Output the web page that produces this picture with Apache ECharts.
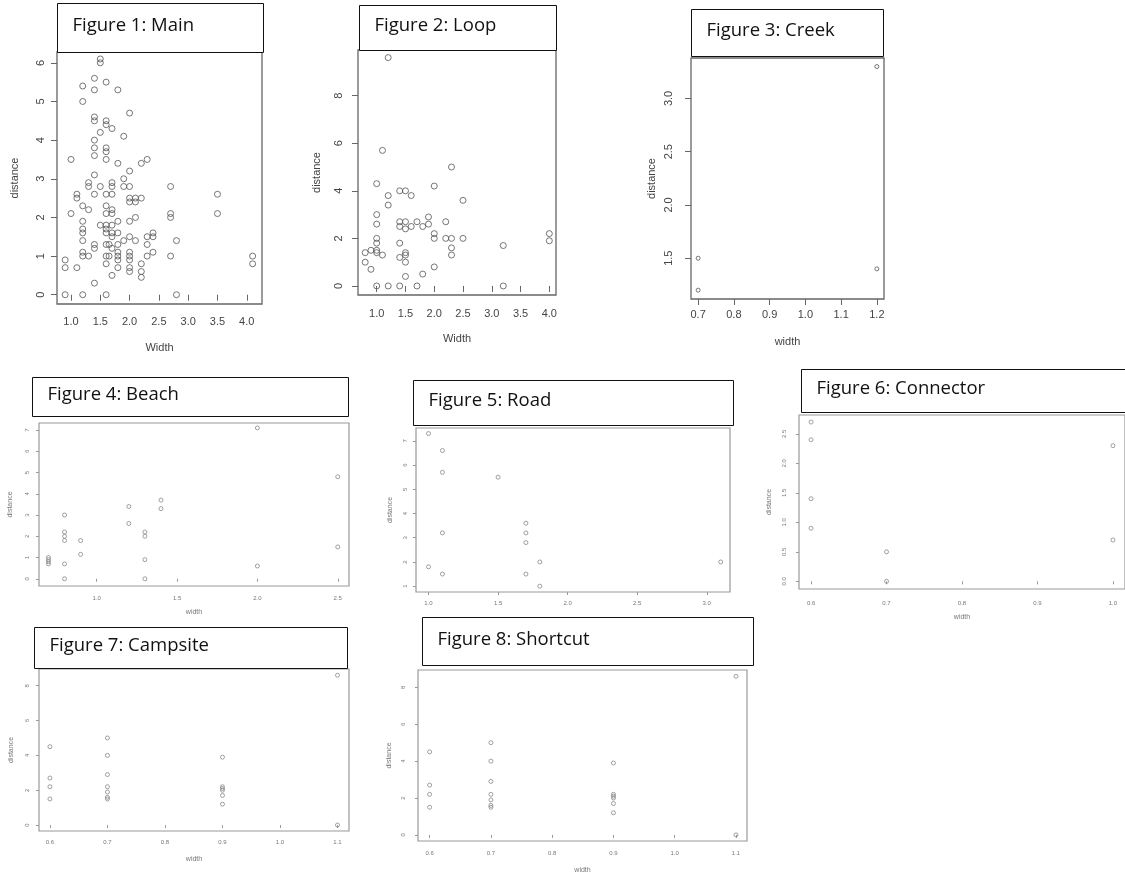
<!DOCTYPE html>
<html>
<head>
<meta charset="utf-8">
<script src="https://cdn.jsdelivr.net/npm/echarts@6/dist/echarts.min.js"></script>
<style>
  html, body { margin: 0; padding: 0; background: #fff; }
  #chart { width: 1125px; height: 877px; }
</style>
</head>
<body>
<div id="chart"></div>
<script>
// [width, distance] pairs
const mainPts = [
  [0.9, 0], [0.9, 0.9], [0.9, 0.7], [1.0, 2.1], [1.0, 3.5], [1.1, 0.7], [1.1, 2.6], [1.1, 2.5],
  [1.2, 0], [1.2, 5.4], [1.2, 5.0], [1.2, 2.3], [1.2, 1.9], [1.2, 1.7], [1.2, 1.6], [1.2, 1.4],
  [1.2, 1.1], [1.2, 1.0], [1.3, 2.2], [1.3, 1.0], [1.3, 2.9], [1.3, 2.8],
  [1.4, 5.6], [1.4, 5.3], [1.4, 4.6], [1.4, 4.5], [1.4, 4.0], [1.4, 3.8], [1.4, 3.6], [1.4, 3.1],
  [1.4, 2.6], [1.4, 1.3], [1.4, 1.2], [1.4, 0.3],
  [1.5, 6.1], [1.5, 6.0], [1.5, 4.2], [1.5, 2.8], [1.5, 1.8],
  [1.6, 0], [1.6, 5.5], [1.6, 4.5], [1.6, 4.4], [1.6, 3.8], [1.6, 3.7], [1.6, 3.5], [1.6, 2.6],
  [1.6, 2.3], [1.6, 2.1], [1.6, 1.8], [1.6, 1.7], [1.6, 1.6], [1.6, 1.3], [1.6, 1.0], [1.6, 0.8],
  [1.65, 1.3], [1.65, 1.0],
  [1.7, 4.3], [1.7, 2.9], [1.7, 2.8], [1.7, 2.6], [1.7, 2.2], [1.7, 2.1], [1.7, 1.8], [1.7, 1.6],
  [1.7, 1.5], [1.7, 1.2], [1.7, 0.5],
  [1.8, 5.3], [1.8, 3.4], [1.8, 1.9], [1.8, 1.6], [1.8, 1.3], [1.8, 1.1], [1.8, 1.0], [1.8, 0.9], [1.8, 0.7],
  [1.9, 4.1], [1.9, 3.0], [1.9, 2.8], [1.9, 1.4],
  [2.0, 4.7], [2.0, 3.2], [2.0, 2.8], [2.0, 2.5], [2.0, 2.4], [2.0, 1.9], [2.0, 1.5], [2.0, 1.1],
  [2.0, 1.0], [2.0, 0.9], [2.0, 0.7], [2.0, 0.6],
  [2.1, 2.5], [2.1, 2.4], [2.1, 2.0], [2.1, 1.4],
  [2.2, 3.4], [2.2, 2.5], [2.2, 0.8], [2.2, 0.6], [2.2, 0.45],
  [2.3, 3.5], [2.3, 1.5], [2.3, 1.3], [2.3, 1.0],
  [2.4, 1.6], [2.4, 1.5], [2.4, 1.1],
  [2.7, 2.8], [2.7, 2.1], [2.7, 2.0], [2.7, 1.0], [2.8, 1.4], [2.8, 0],
  [3.5, 2.6], [3.5, 2.1], [4.1, 1.0], [4.1, 0.8]
];
const loopPts = [
  [0.8, 1.4], [0.8, 1.0], [0.9, 1.5], [0.9, 0.7],
  [1.0, 0], [1.0, 4.3], [1.0, 3.0], [1.0, 2.6], [1.0, 2.0], [1.0, 1.8], [1.0, 1.5], [1.0, 1.4],
  [1.1, 5.7], [1.1, 1.3], [1.2, 9.6], [1.2, 3.8], [1.2, 3.4], [1.2, 0],
  [1.4, 4.0], [1.4, 2.7], [1.4, 2.5], [1.4, 1.8], [1.4, 1.2], [1.4, 0],
  [1.5, 4.0], [1.5, 2.7], [1.5, 2.4], [1.5, 1.4], [1.5, 1.3], [1.5, 1.0], [1.5, 0.4],
  [1.6, 3.8], [1.6, 2.5], [1.7, 2.7], [1.7, 0], [1.8, 2.5], [1.8, 0.5],
  [1.9, 2.9], [1.9, 2.6], [2.0, 4.2], [2.0, 2.2], [2.0, 2.0], [2.0, 0.8],
  [2.2, 2.7], [2.2, 2.0], [2.3, 5.0], [2.3, 2.0], [2.3, 1.6], [2.3, 1.3],
  [2.5, 3.6], [2.5, 2.0], [3.2, 1.7], [3.2, 0], [4.0, 2.2], [4.0, 1.9]
];
const creekPts = [[0.7, 1.5], [0.7, 1.2], [1.2, 3.3], [1.2, 1.4]];
const beachPts = [
  [0.7, 1.0], [0.7, 0.9], [0.7, 0.8], [0.7, 0.7],
  [0.8, 0], [0.8, 0.7], [0.8, 1.8], [0.8, 2.0], [0.8, 2.2], [0.8, 3.0],
  [0.9, 1.8], [0.9, 1.15], [1.2, 3.4], [1.2, 2.6],
  [1.3, 0], [1.3, 0.9], [1.3, 2.0], [1.3, 2.2], [1.4, 3.7], [1.4, 3.3],
  [2.0, 7.1], [2.0, 0.6], [2.5, 4.8], [2.5, 1.5]
];
const roadPts = [
  [1.0, 7.3], [1.0, 1.8], [1.1, 6.6], [1.1, 5.7], [1.1, 3.2], [1.1, 1.5],
  [1.5, 5.5], [1.7, 3.6], [1.7, 3.2], [1.7, 2.8], [1.7, 1.5],
  [1.8, 2.0], [1.8, 1.0], [3.1, 2.0]
];
const connectorPts = [
  [0.6, 2.7], [0.6, 2.4], [0.6, 1.4], [0.6, 0.9], [0.7, 0.5], [0.7, 0], [1.0, 2.3], [1.0, 0.7]
];
const campsitePts = [
  [0.6, 4.5], [0.6, 2.7], [0.6, 2.2], [0.6, 1.5],
  [0.7, 5.0], [0.7, 4.0], [0.7, 2.9], [0.7, 2.2], [0.7, 1.9], [0.7, 1.6], [0.7, 1.5],
  [0.9, 3.9], [0.9, 2.2], [0.9, 2.1], [0.9, 2.0], [0.9, 1.7], [0.9, 1.2],
  [1.1, 8.6], [1.1, 0]
];
const shortcutPts = [
  [0.6, 4.5], [0.6, 2.7], [0.6, 2.2], [0.6, 1.5],
  [0.7, 5.0], [0.7, 4.0], [0.7, 2.9], [0.7, 2.2], [0.7, 1.9], [0.7, 1.6], [0.7, 1.5],
  [0.9, 3.9], [0.9, 2.2], [0.9, 2.1], [0.9, 2.0], [0.9, 1.7], [0.9, 1.2],
  [1.1, 8.6], [1.1, 0]
];

const titles = ['Figure 1: Main', 'Figure 2: Loop', 'Figure 3: Creek', 'Figure 4: Beach',
  'Figure 5: Road', 'Figure 6: Connector', 'Figure 7: Campsite', 'Figure 8: Shortcut'];
const xNames = ['Width', 'Width', 'width', 'width', '', 'width', 'width', 'width'];
const xTicks = [
  [1.0, 1.5, 2.0, 2.5, 3.0, 3.5, 4.0],
  [1.0, 1.5, 2.0, 2.5, 3.0, 3.5, 4.0],
  [0.7, 0.8, 0.9, 1.0, 1.1, 1.2],
  [1.0, 1.5, 2.0, 2.5],
  [1.0, 1.5, 2.0, 2.5, 3.0],
  [0.6, 0.7, 0.8, 0.9, 1.0],
  [0.6, 0.7, 0.8, 0.9, 1.0, 1.1],
  [0.6, 0.7, 0.8, 0.9, 1.0, 1.1]
];
const yTicks = [
  [0, 1, 2, 3, 4, 5, 6],
  [0, 2, 4, 6, 8],
  [1.5, 2.0, 2.5, 3.0],
  [0, 1, 2, 3, 4, 5, 6, 7],
  [1, 2, 3, 4, 5, 6, 7],
  [0.0, 0.5, 1.0, 1.5, 2.0, 2.5],
  [0, 2, 4, 6, 8],
  [0, 2, 4, 6, 8]
];

// layout of each panel: plot box, axis ranges, title box, label gaps
const panels = [
  { pts: mainPts, box: [57, 52, 205, 252], xr: [0.761, 4.26], yr: [-0.24, 6.28], yDec: 0, big: true,
    tbox: [57, 3, 206, 49], gaps: [12, 11, 38, 37], sym: 6 },
  { pts: loopPts, box: [358, 50, 198, 245], xr: [0.675, 4.116], yr: [-0.38, 9.92], yDec: 0, big: true,
    tbox: [359, 5, 197, 45], gaps: [13, 14, 38, 36], sym: 6 },
  { pts: creekPts, box: [691, 58, 193, 241], xr: [0.68, 1.22], yr: [1.117, 3.38], yDec: 1, big: true,
    tbox: [691, 9, 192, 47], gaps: [10, 17, 37, 34], sym: 4 },
  { pts: beachPts, box: [39, 423, 310, 163], xr: [0.641, 2.57], yr: [-0.34, 7.33], yDec: 0, big: false,
    tbox: [32, 377, 316, 39], gaps: [9, 9, 23, 25], sym: 4 },
  { pts: roadPts, box: [416, 428, 314, 164], xr: [0.91, 3.167], yr: [0.76, 7.53], yDec: 0, big: false,
    tbox: [413, 380, 320, 45], gaps: [8, 8, 23, 22], sym: 4 },
  { pts: connectorPts, box: [799, 415, 331, 174], xr: [0.584, 1.016], yr: [-0.13, 2.82], yDec: 1, big: false,
    tbox: [801, 369, 330, 43], gaps: [11, 12, 25, 26], sym: 4 },
  { pts: campsitePts, box: [39, 669, 310, 162], xr: [0.581, 1.12], yr: [-0.34, 8.96], yDec: 0, big: false,
    tbox: [34, 627, 313, 41], gaps: [8, 9, 25, 24], sym: 4 },
  { pts: shortcutPts, box: [418, 670, 329, 171], xr: [0.581, 1.118], yr: [-0.33, 8.94], yDec: 0, big: false,
    tbox: [422, 617, 331, 48], gaps: [9, 12, 26, 25], sym: 4 }
];

const chart = echarts.init(document.getElementById('chart'), null, { renderer: 'canvas' });

const grid = [], xAxis = [], yAxis = [], series = [], graphic = [];

panels.forEach((p, i) => {
  const fs = p.big ? 11 : 6;
  const nameFs = p.big ? 11 : 7;
  const txt = p.big ? '#444' : '#777';
  const line = p.big ? '#666' : '#999';
  const tickLen = p.big ? 6 : 3;

  grid.push({
    left: p.box[0], top: p.box[1], width: p.box[2], height: p.box[3],
    show: true, borderColor: line, borderWidth: p.big ? 1.3 : 1.2, backgroundColor: '#fff'
  });
  xAxis.push({
    type: 'value', gridIndex: i, min: p.xr[0], max: p.xr[1],
    name: xNames[i], nameLocation: 'middle', nameGap: p.gaps[2],
    nameTextStyle: { color: txt, fontSize: nameFs, fontFamily: 'Liberation Sans' },
    axisLine: { show: false },
    splitLine: { show: false },
    axisTick: { show: true, length: tickLen, customValues: xTicks[i], lineStyle: { color: line } },
    axisLabel: {
      customValues: xTicks[i], margin: p.gaps[0], color: txt, fontSize: fs,
      fontFamily: 'Liberation Sans', formatter: v => v.toFixed(1)
    }
  });
  yAxis.push({
    type: 'value', gridIndex: i, min: p.yr[0], max: p.yr[1],
    name: 'distance', nameLocation: 'middle', nameGap: p.gaps[3], nameRotate: 90,
    nameTextStyle: { color: txt, fontSize: nameFs, fontFamily: 'Liberation Sans' },
    axisLine: { show: false },
    splitLine: { show: false },
    axisTick: { show: true, length: tickLen, customValues: yTicks[i], lineStyle: { color: line } },
    axisLabel: {
      customValues: yTicks[i], margin: p.gaps[1], rotate: 90, color: txt, fontSize: fs,
      fontFamily: 'Liberation Sans', formatter: v => v.toFixed(p.yDec)
    }
  });
  series.push({
    type: 'scatter', xAxisIndex: i, yAxisIndex: i, data: p.pts,
    symbol: 'circle', symbolSize: p.sym, silent: true,
    itemStyle: { color: 'rgba(0,0,0,0)', borderColor: p.big ? '#555' : '#888', borderWidth: 1 }
  });
  graphic.push({
    type: 'group', left: p.tbox[0], top: p.tbox[1], z: 100,
    children: [
      { type: 'rect', shape: { x: 0, y: 0, width: p.tbox[2], height: p.tbox[3] },
        style: { fill: '#fff', stroke: '#111', lineWidth: 1 } },
      { type: 'text', x: 15, y: p.tbox[3] / 2 - 2,
        style: { text: titles[i], fill: '#111', fontSize: 18.5, fontFamily: 'Open Sans', verticalAlign: 'middle' } }
    ]
  });
});

chart.setOption({
  animation: false,
  backgroundColor: '#fff',
  grid, xAxis, yAxis, series, graphic
});
</script>
</body>
</html>
